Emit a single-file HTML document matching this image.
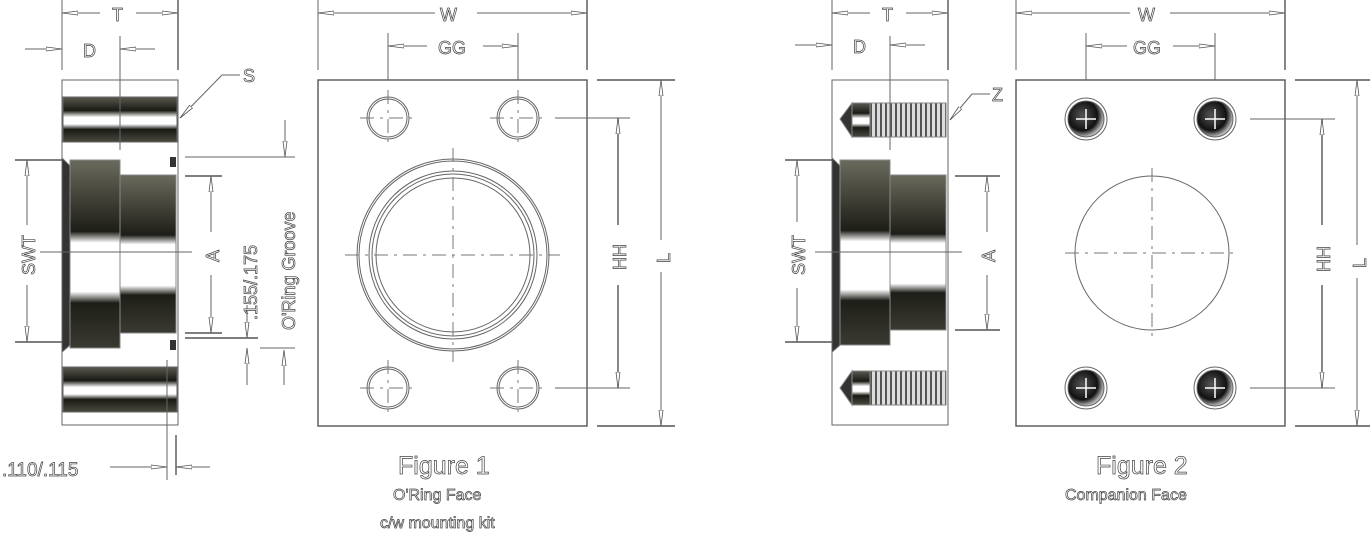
<!DOCTYPE html>
<html><head><meta charset="utf-8"><style>
html,body{margin:0;padding:0;background:#fff;width:1370px;height:533px;overflow:hidden}
svg{display:block}
text{font-family:"Liberation Sans",sans-serif;fill:#fff;stroke:#444;stroke-width:0.7}
.l{stroke:#666;stroke-width:1;fill:none}
.lw{stroke:#555;stroke-width:1.4;fill:none}
.dash{stroke:#777;stroke-width:1;fill:none;stroke-dasharray:14 6 3 6}
.a{marker-end:url(#ar)}
</style></head><body>
<svg width="1370" height="533" viewBox="0 0 1370 533" xmlns="http://www.w3.org/2000/svg">
<defs>
<marker id="ar" viewBox="0 0 16 6" refX="16" refY="3" markerWidth="16" markerHeight="6" markerUnits="userSpaceOnUse" orient="auto">
<path d="M0,1 L16,3 L0,5 Z" fill="#fff" stroke="#555" stroke-width="0.8"/>
</marker>
<linearGradient id="cyl" x1="0" y1="0" x2="0" y2="1">
<stop offset="0" stop-color="#6a6a5c"/><stop offset="0.38" stop-color="#1e1e18"/>
<stop offset="0.44" stop-color="#fff"/><stop offset="0.7" stop-color="#fff"/>
<stop offset="0.76" stop-color="#1e1e18"/><stop offset="1" stop-color="#3a3a32"/>
</linearGradient>
<linearGradient id="bar" x1="0" y1="0" x2="0" y2="1">
<stop offset="0" stop-color="#5a5a50"/><stop offset="0.3" stop-color="#1a1a15"/>
<stop offset="0.45" stop-color="#fff"/><stop offset="0.6" stop-color="#fff"/>
<stop offset="0.72" stop-color="#1a1a15"/><stop offset="1" stop-color="#4a4a40"/>
</linearGradient>
<pattern id="thr" width="5" height="10" patternUnits="userSpaceOnUse">
<rect width="5" height="10" fill="#ddd"/><rect width="2" height="10" fill="#555"/>
</pattern>
<radialGradient id="bolt" cx="0.4" cy="0.4" r="0.6">
<stop offset="0" stop-color="#555"/><stop offset="0.7" stop-color="#111"/><stop offset="1" stop-color="#bbb"/>
</radialGradient>
</defs>

<!-- ===== FIGURE 1 SIDE ===== -->
<g>
<rect x="62" y="80" width="116" height="345" class="l"/>
<rect x="63" y="97" width="114" height="45" fill="url(#bar)" stroke="#666"/>
<rect x="63" y="367" width="114" height="45" fill="url(#bar)" stroke="#666"/>
<polygon points="62,158 70,166 70,345 62,352" fill="#333" stroke="#666"/>
<rect x="70" y="160" width="50" height="188" fill="url(#cyl)" stroke="#888"/>
<rect x="120" y="175" width="56" height="158" fill="url(#cyl)" stroke="#888"/>
<rect x="170" y="157" width="6" height="10" fill="#333"/>
<rect x="170" y="340" width="6" height="10" fill="#333"/>
<line x1="120" y1="36" x2="120" y2="150" class="l"/>
<line x1="167" y1="360" x2="167" y2="480" class="l"/>
<line x1="176" y1="435" x2="176" y2="475" class="lw"/>
<line x1="110" y1="467" x2="167" y2="467" class="l a"/><line x1="210" y1="467" x2="176" y2="467" class="l a"/>
<text x="2" y="476" font-size="19">.110/.115</text>
<line x1="100" y1="13" x2="62" y2="13" class="l a"/><line x1="136" y1="13" x2="178" y2="13" class="l a"/>
<line x1="62" y1="0" x2="62" y2="70" class="l"/><line x1="178" y1="0" x2="178" y2="70" class="lw"/>
<text x="112" y="21" font-size="18">T</text>
<line x1="25" y1="49" x2="62" y2="49" class="l a"/><line x1="155" y1="49" x2="120" y2="49" class="l a"/>
<text x="83" y="57" font-size="18">D</text>
<polyline points="222,75 240,75" class="l"/><line x1="222" y1="75" x2="180" y2="118" class="l a"/>
<text x="243" y="82" font-size="18">S</text>
<line x1="15" y1="160" x2="62" y2="160" class="lw"/><line x1="15" y1="342" x2="62" y2="342" class="lw"/>
<line x1="27" y1="225" x2="27" y2="160" class="l a"/><line x1="27" y1="285" x2="27" y2="342" class="l a"/>
<text transform="translate(35,275) rotate(-90)" font-size="18">SWT</text>
<line x1="40" y1="252" x2="192" y2="252" class="l"/>
<line x1="185" y1="176" x2="222" y2="176" class="lw"/><line x1="185" y1="333" x2="222" y2="333" class="lw"/>
<line x1="211" y1="232" x2="211" y2="176" class="l a"/><line x1="211" y1="275" x2="211" y2="333" class="l a"/>
<text transform="translate(219,262) rotate(-90)" font-size="18">A</text>
<line x1="185" y1="157" x2="295" y2="157" class="l"/>
<line x1="285" y1="120" x2="285" y2="157" class="l a"/>
<line x1="185" y1="338" x2="258" y2="338" class="lw"/>
<line x1="260" y1="348" x2="295" y2="348" class="l"/>
<line x1="247" y1="305" x2="247" y2="338" class="l a"/><line x1="247" y1="385" x2="247" y2="348" class="l a"/>
<line x1="284" y1="385" x2="284" y2="350" class="l a"/>
<text transform="translate(257,320) rotate(-90)" font-size="18">.155/.175</text>
<text transform="translate(295,330) rotate(-90)" font-size="18">O'Ring Groove</text>
</g>

<!-- ===== FIGURE 1 FRONT ===== -->
<g>
<rect x="318" y="80" width="269" height="346" class="lw"/>
<line x1="318" y1="0" x2="318" y2="70" class="l"/><line x1="587" y1="0" x2="587" y2="70" class="lw"/>
<line x1="435" y1="13" x2="318" y2="13" class="l a"/><line x1="477" y1="13" x2="587" y2="13" class="l a"/>
<text x="440" y="21" font-size="18">W</text>
<line x1="388" y1="33" x2="388" y2="80" class="l"/><line x1="518" y1="33" x2="518" y2="80" class="l"/>
<line x1="427" y1="46" x2="388" y2="46" class="l a"/><line x1="483" y1="46" x2="518" y2="46" class="l a"/>
<text x="438" y="54" font-size="18">GG</text>
<g class="l">
<circle cx="388" cy="118" r="21"/><circle cx="388" cy="118" r="19"/>
<circle cx="518" cy="118" r="21"/><circle cx="518" cy="118" r="19"/>
<circle cx="388" cy="388" r="21"/><circle cx="388" cy="388" r="19"/>
<circle cx="518" cy="388" r="21"/><circle cx="518" cy="388" r="19"/>
<circle cx="453" cy="255" r="96"/><circle cx="453" cy="255" r="94"/>
<circle cx="453" cy="255" r="84"/><circle cx="453" cy="255" r="81"/><circle cx="453" cy="255" r="77"/>
</g>
<g class="dash">
<line x1="360" y1="118" x2="416" y2="118"/><line x1="388" y1="90" x2="388" y2="146"/>
<line x1="490" y1="118" x2="546" y2="118"/><line x1="518" y1="90" x2="518" y2="146"/>
<line x1="360" y1="388" x2="416" y2="388"/><line x1="388" y1="360" x2="388" y2="416"/>
<line x1="490" y1="388" x2="546" y2="388"/><line x1="518" y1="360" x2="518" y2="416"/>
<line x1="345" y1="255" x2="560" y2="255"/><line x1="453" y1="148" x2="453" y2="362"/>
</g>
<line x1="555" y1="118" x2="630" y2="118" class="l"/><line x1="555" y1="388" x2="630" y2="388" class="l"/>
<line x1="618" y1="225" x2="618" y2="118" class="lw a"/><line x1="618" y1="285" x2="618" y2="388" class="lw a"/>
<text transform="translate(626,270) rotate(-90)" font-size="18">HH</text>
<line x1="597" y1="80" x2="675" y2="80" class="lw"/><line x1="597" y1="426" x2="675" y2="426" class="lw"/>
<line x1="661" y1="240" x2="661" y2="80" class="l a"/><line x1="661" y1="272" x2="661" y2="426" class="l a"/>
<text transform="translate(670,263) rotate(-90)" font-size="18">L</text>
<text x="398" y="474" font-size="25">Figure 1</text>
<text x="393" y="500" font-size="16">O'Ring Face</text>
<text x="380" y="528" font-size="16">c/w mounting kit</text>
</g>

<!-- ===== FIGURE 2 SIDE ===== -->
<g>
<rect x="832" y="80" width="116" height="345" class="l"/>
<rect x="870" y="103" width="76" height="34" fill="url(#thr)" stroke="#888"/>
<rect x="852" y="103" width="18" height="34" fill="url(#bar)" stroke="#888"/>
<polygon points="852,103 840,119 852,137" fill="#333" stroke="#888"/>
<rect x="870" y="371" width="76" height="34" fill="url(#thr)" stroke="#888"/>
<rect x="852" y="371" width="18" height="34" fill="url(#bar)" stroke="#888"/>
<polygon points="852,371 840,388 852,405" fill="#333" stroke="#888"/>
<polygon points="832,158 840,166 840,345 832,352" fill="#333" stroke="#666"/>
<rect x="840" y="160" width="50" height="185" fill="url(#cyl)" stroke="#888"/>
<rect x="890" y="175" width="56" height="155" fill="url(#cyl)" stroke="#888"/>
<line x1="890" y1="36" x2="890" y2="150" class="l"/>
<line x1="832" y1="0" x2="832" y2="70" class="l"/><line x1="948" y1="0" x2="948" y2="70" class="lw"/>
<line x1="870" y1="13" x2="832" y2="13" class="l a"/><line x1="906" y1="13" x2="948" y2="13" class="l a"/>
<text x="882" y="21" font-size="18">T</text>
<line x1="795" y1="45" x2="832" y2="45" class="l a"/><line x1="925" y1="45" x2="890" y2="45" class="l a"/>
<text x="853" y="53" font-size="18">D</text>
<polyline points="972,94 990,94" class="l"/><line x1="972" y1="94" x2="950" y2="120" class="l a"/>
<text x="992" y="101" font-size="18">Z</text>
<line x1="785" y1="160" x2="832" y2="160" class="lw"/><line x1="785" y1="342" x2="832" y2="342" class="lw"/>
<line x1="797" y1="222" x2="797" y2="160" class="l a"/><line x1="797" y1="288" x2="797" y2="342" class="l a"/>
<text transform="translate(805,275) rotate(-90)" font-size="18">SWT</text>
<line x1="815" y1="252" x2="962" y2="252" class="l"/>
<line x1="955" y1="176" x2="1000" y2="176" class="lw"/><line x1="955" y1="330" x2="1000" y2="330" class="lw"/>
<line x1="987" y1="232" x2="987" y2="176" class="l a"/><line x1="987" y1="275" x2="987" y2="330" class="l a"/>
<text transform="translate(995,262) rotate(-90)" font-size="18">A</text>
</g>

<!-- ===== FIGURE 2 FRONT ===== -->
<g>
<rect x="1016" y="80" width="269" height="346" class="lw"/>
<line x1="1016" y1="0" x2="1016" y2="70" class="l"/><line x1="1285" y1="0" x2="1285" y2="70" class="lw"/>
<line x1="1130" y1="13" x2="1016" y2="13" class="l a"/><line x1="1170" y1="13" x2="1285" y2="13" class="l a"/>
<text x="1138" y="21" font-size="18">W</text>
<line x1="1086" y1="33" x2="1086" y2="80" class="l"/><line x1="1215" y1="33" x2="1215" y2="80" class="l"/>
<line x1="1127" y1="46" x2="1086" y2="46" class="l a"/><line x1="1173" y1="46" x2="1215" y2="46" class="l a"/>
<text x="1133" y="54" font-size="18">GG</text>
<g stroke="#666" fill="url(#bolt)">
<circle cx="1086" cy="119" r="18"/><circle cx="1215" cy="119" r="18"/>
<circle cx="1086" cy="388" r="18"/><circle cx="1215" cy="388" r="18"/>
</g>
<g class="l">
<circle cx="1086" cy="119" r="21"/><circle cx="1215" cy="119" r="21"/>
<circle cx="1086" cy="388" r="21"/><circle cx="1215" cy="388" r="21"/>
<circle cx="1152" cy="253" r="77"/>
</g>
<g stroke="#fff" stroke-width="1.5">
<line x1="1076" y1="119" x2="1096" y2="119"/><line x1="1086" y1="109" x2="1086" y2="129"/>
<line x1="1205" y1="119" x2="1225" y2="119"/><line x1="1215" y1="109" x2="1215" y2="129"/>
<line x1="1076" y1="388" x2="1096" y2="388"/><line x1="1086" y1="378" x2="1086" y2="398"/>
<line x1="1205" y1="388" x2="1225" y2="388"/><line x1="1215" y1="378" x2="1215" y2="398"/>
</g>
<g class="dash">
<line x1="1065" y1="253" x2="1238" y2="253"/><line x1="1152" y1="168" x2="1152" y2="338"/>
</g>
<line x1="1250" y1="119" x2="1335" y2="119" class="l"/><line x1="1250" y1="388" x2="1335" y2="388" class="l"/>
<line x1="1322" y1="225" x2="1322" y2="119" class="lw a"/><line x1="1322" y1="285" x2="1322" y2="388" class="lw a"/>
<text transform="translate(1330,272) rotate(-90)" font-size="18">HH</text>
<line x1="1295" y1="80" x2="1370" y2="80" class="lw"/><line x1="1295" y1="426" x2="1370" y2="426" class="lw"/>
<line x1="1357" y1="245" x2="1357" y2="80" class="l a"/><line x1="1357" y1="278" x2="1357" y2="426" class="l a"/>
<text transform="translate(1366,268) rotate(-90)" font-size="18">L</text>
<text x="1096" y="474" font-size="25">Figure 2</text>
<text x="1065" y="500" font-size="16">Companion Face</text>
</g>
</svg>
</body></html>
